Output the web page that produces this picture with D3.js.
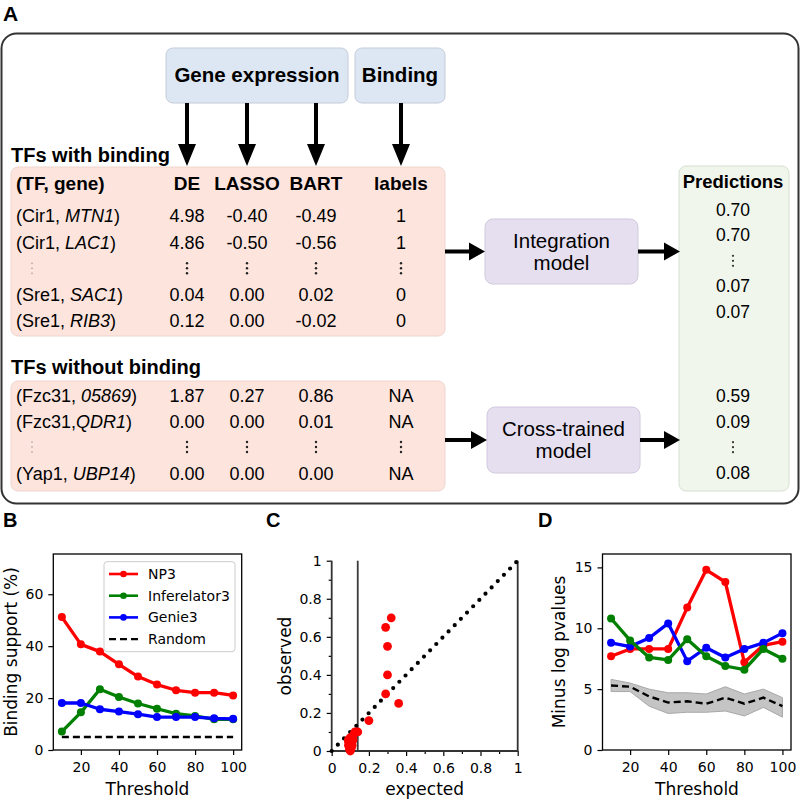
<!DOCTYPE html>
<meta charset="utf-8">
<script src="https://d3js.org/d3.v7.min.js"></script>
<style>
  body { margin: 0; background: #fff; }
  svg text { font-family: "Liberation Sans", Arial, sans-serif; }
  .mpl text { font-family: "DejaVu Sans", sans-serif; }
</style>
<div id="fig"></div>
<script>

// ---------------- Panel A : table values ----------------
var columns = ["DE", "LASSO", "BART", "labels"];

var boundTF = ["Cir1", "Cir1", "Sre1", "Sre1"];
var boundSep = [", ", ", ", ", ", ", "];
var boundGene = ["MTN1", "LAC1", "SAC1", "RIB3"];
var boundDE = [4.98, 4.86, 0.04, 0.12];
var boundLASSO = [-0.40, -0.50, 0.00, 0.00];
var boundBART = [-0.49, -0.56, 0.02, -0.02];
var boundLabels = ["1", "1", "0", "0"];
var boundPred = [0.70, 0.70, 0.07, 0.07];

var freeTF = ["Fzc31", "Fzc31", "Yap1"];
var freeSep = [", ", ",", ", "];
var freeGene = ["05869", "QDR1", "UBP14"];
var freeDE = [1.87, 0.00, 0.00];
var freeLASSO = [0.27, 0.00, 0.00];
var freeBART = [0.86, 0.01, 0.00];
var freeLabels = ["NA", "NA", "NA"];
var freePred = [0.59, 0.09, 0.08];

// ---------------- Panel B : binding support ----------------
var thresholds = [10, 20, 30, 40, 50, 60, 70, 80, 90, 100];
var np3Support = [51.2, 40.7, 37.9, 33.0, 28.3, 25.2, 23.0, 22.1, 22.1, 21.0];
var infSupport = [7.1, 14.5, 23.4, 20.4, 17.9, 15.9, 14.0, 13.1, 11.8, 11.8];
var genieSupport = [18.1, 18.1, 15.7, 14.8, 13.8, 12.7, 12.7, 12.7, 12.2, 12.0];
var randomSupport = [5, 5, 5, 5, 5, 5, 5, 5, 5, 5];
var legendNames = ["NP3", "Inferelator3", "Genie3", "Random"];

// ---------------- Panel C : observed vs expected ----------------
var qqExpected = [0.32, 0.29, 0.30, 0.30, 0.29, 0.36, 0.20, 0.14, 0.125, 0.12,
                  0.10, 0.11, 0.09, 0.10, 0.11, 0.09, 0.10, 0.095, 0.10, 0.11, 0.115, 0.09, 0.105];
var qqObserved = [0.70, 0.65, 0.55, 0.40, 0.30, 0.25, 0.16, 0.10, 0.10, 0.09,
                  0.07, 0.06, 0.05, 0.04, 0.05, 0.03, 0.02, 0.01, 0.00, 0.03, 0.06, 0.06, 0.015];
var qqCutoff = 0.14;

// ---------------- Panel D : minus log p-values ----------------
var np3Pval = [7.7, 8.3, 8.3, 8.3, 11.7, 14.8, 13.8, 7.2, 8.6, 8.9];
var geniePval = [8.8, 8.5, 9.2, 10.4, 7.3, 8.4, 7.6, 8.3, 8.8, 9.6];
var infPval = [10.8, 9.0, 7.6, 7.4, 9.1, 7.7, 6.9, 6.6, 8.3, 7.5];
var randomPval = [5.3, 5.2, 4.4, 3.9, 4.0, 3.8, 4.3, 3.8, 4.3, 3.6];
var randomHigh = [5.8, 5.5, 5.0, 4.7, 4.7, 4.6, 5.2, 4.6, 5.0, 4.3];
var randomLow = [4.8, 4.8, 3.6, 3.0, 3.1, 3.1, 3.2, 2.8, 3.5, 2.7];

var colors = {np3: "#ff0000", inf: "#008000", genie: "#0000ff"};

var svg = d3.select("#fig").append("svg")
  .attr("width", 800)
  .attr("height", 801);

// ======================= PANEL A =======================
var A = svg.append("g");

A.append("text").attr("x", 3).attr("y", 21)
  .style("font-size", "21px").style("font-weight", "bold").text("A");

A.append("rect")
  .attr("x", 1.5).attr("y", 33.5).attr("width", 797).attr("height", 470)
  .attr("rx", 15)
  .attr("fill", "none").attr("stroke", "#333").attr("stroke-width", 2);

// input boxes
var inputs = [
  {name: "Gene expression", x0: 166, x1: 348},
  {name: "Binding", x0: 355, x1: 445}
];
A.selectAll(".inbox").data(inputs).enter().append("rect")
  .attr("x", function(d){ return d.x0 }).attr("y", 48)
  .attr("width", function(d){ return d.x1 - d.x0 }).attr("height", 55)
  .attr("rx", 7)
  .attr("fill", "#dde7f3").attr("stroke", "#c3ccd8");
A.selectAll(".intext").data(inputs).enter().append("text")
  .attr("x", function(d){ return (d.x0 + d.x1) / 2 }).attr("y", 82)
  .attr("text-anchor", "middle")
  .style("font-size", "20.5px").style("font-weight", "bold")
  .text(function(d){ return d.name });

// column positions
var colX = d3.scaleOrdinal().domain(columns).range([187, 247, 316, 401]);

function downArrow(x, y1, y2) {
  var hw = 2, hh = 9, hl = 22;
  return ["M", x - hw, y1, "L", x + hw, y1, "L", x + hw, y2 - hl, "L", x + hh, y2 - hl,
          "L", x, y2, "L", x - hh, y2 - hl, "L", x - hw, y2 - hl, "Z"].join(" ");
}
function rightArrow(x1, x2, y) {
  var hw = 2, hh = 9, hl = 16;
  return ["M", x1, y - hw, "L", x2 - hl, y - hw, "L", x2 - hl, y - hh, "L", x2, y,
          "L", x2 - hl, y + hh, "L", x2 - hl, y + hw, "L", x1, y + hw, "Z"].join(" ");
}

A.selectAll(".varrow").data(columns).enter().append("path")
  .attr("d", function(d){ return downArrow(colX(d), 103, 166) })
  .attr("fill", "#000");

A.append("text").attr("x", 11).attr("y", 162)
  .style("font-size", "20px").style("font-weight", "bold").text("TFs with binding");
A.append("text").attr("x", 11).attr("y", 374)
  .style("font-size", "20px").style("font-weight", "bold").text("TFs without binding");

// pink boxes
A.append("rect").attr("x", 11).attr("y", 167).attr("width", 434).attr("height", 169)
  .attr("rx", 7).attr("fill", "#fde4dd").attr("stroke", "#eed5ce");
A.append("rect").attr("x", 11).attr("y", 381).attr("width", 434).attr("height", 110)
  .attr("rx", 7).attr("fill", "#fde4dd").attr("stroke", "#eed5ce");

// predictions box
A.append("rect").attr("x", 679).attr("y", 166).attr("width", 110).attr("height", 325)
  .attr("rx", 7).attr("fill", "#f0f6ec").attr("stroke", "#d6dfd2");
A.append("text").attr("x", 733).attr("y", 188).attr("text-anchor", "middle")
  .style("font-size", "18.5px").style("font-weight", "bold").text("Predictions");

// header row
A.append("text").attr("x", 16).attr("y", 190)
  .style("font-size", "19px").style("font-weight", "bold").text("(TF, gene)");
A.selectAll(".colhead").data(columns).enter().append("text")
  .attr("x", function(d){ return colX(d) }).attr("y", 190)
  .attr("text-anchor", "middle")
  .style("font-size", "19px").style("font-weight", "bold")
  .text(function(d){ return d });

// model boxes
var models = [
  {l1: "Integration", l2: "model", x0: 485, x1: 638, y0: 219, y1: 284},
  {l1: "Cross-trained", l2: "model", x0: 487, x1: 640, y0: 407, y1: 473}
];
A.selectAll(".model").data(models).enter().append("rect")
  .attr("x", function(d){ return d.x0 }).attr("y", function(d){ return d.y0 })
  .attr("width", function(d){ return d.x1 - d.x0 }).attr("height", function(d){ return d.y1 - d.y0 })
  .attr("rx", 8).attr("fill", "#e6dff0").attr("stroke", "#d2cadc");
models.forEach(function(m) {
  var cx = (m.x0 + m.x1) / 2, cy = (m.y0 + m.y1) / 2;
  A.append("text").attr("x", cx).attr("y", cy - 4).attr("text-anchor", "middle")
    .style("font-size", "20.5px").text(m.l1);
  A.append("text").attr("x", cx).attr("y", cy + 18).attr("text-anchor", "middle")
    .style("font-size", "20.5px").text(m.l2);
  A.append("path").attr("d", rightArrow(445, m.x0, cy)).attr("fill", "#000");
  A.append("path").attr("d", rightArrow(m.x1, 680, cy)).attr("fill", "#000");
});

function vdots(g, x, y, r, col) {
  [-5, 0, 5].forEach(function(o) {
    g.append("circle").attr("cx", x).attr("cy", y + o).attr("r", r).attr("fill", col);
  });
}

function drawBlock(rowY, slots, tf, sep, gene, de, lasso, bart, labels, dotSlot) {
  var cols = [de, lasso, bart];
  slots.forEach(function(s, i) {
    var y = rowY(s) + 6.5;
    var t = A.append("text").attr("x", 16).attr("y", y).style("font-size", "18px");
    t.append("tspan").text("(" + tf[i] + sep[i]);
    t.append("tspan").style("font-style", "italic").text(gene[i]);
    t.append("tspan").text(")");
    cols.forEach(function(vals, c) {
      A.append("text").attr("x", colX(columns[c])).attr("y", y).attr("text-anchor", "middle")
        .style("font-size", "18px").text(vals[i].toFixed(2));
    });
    A.append("text").attr("x", colX("labels")).attr("y", y).attr("text-anchor", "middle")
      .style("font-size", "18px").text(labels[i]);
  });
  vdots(A, 32, rowY(dotSlot), 0.8, "#999");
  columns.forEach(function(c) { vdots(A, colX(c), rowY(dotSlot), 1.2, "#222"); });
}

var boundY = d3.scaleLinear().domain([0, 4]).range([215.7, 320.9]);
drawBlock(boundY, [0, 1, 3, 4], boundTF, boundSep, boundGene, boundDE, boundLASSO, boundBART, boundLabels, 2);
var freeY = d3.scaleLinear().domain([0, 3]).range([395, 473]);
drawBlock(freeY, [0, 1, 3], freeTF, freeSep, freeGene, freeDE, freeLASSO, freeBART, freeLabels, 2);

// predictions column
var predBY = d3.scaleLinear().domain([0, 4]).range([210, 311.6]);
[0, 1, 3, 4].forEach(function(s, i) {
  A.append("text").attr("x", 733).attr("y", predBY(s) + 6).attr("text-anchor", "middle")
    .style("font-size", "17.5px").text(boundPred[i].toFixed(2));
});
vdots(A, 733, predBY(2), 1.1, "#333");
var predFY = d3.scaleLinear().domain([0, 3]).range([396, 472.7]);
[0, 1, 3].forEach(function(s, i) {
  A.append("text").attr("x", 733).attr("y", predFY(s) + 6).attr("text-anchor", "middle")
    .style("font-size", "17.5px").text(freePred[i].toFixed(2));
});
vdots(A, 733, predFY(2), 1.1, "#333");

// ======================= shared axis helpers =======================
function styleAxis(g) {
  g.select(".domain").remove();
  g.selectAll(".tick line").attr("stroke", "#000").attr("stroke-width", 1.2);
  g.selectAll(".tick text").style("font-size", "14px").attr("fill", "#000");
}
function intFmt(d) { return d3.format("d")(d); }

// ======================= PANEL B =======================
var B = svg.append("g").attr("class", "mpl");
svg.append("text").attr("x", 3).attr("y", 527)
  .style("font-size", "20px").style("font-weight", "bold").text("B");

var xB = d3.scaleLinear().domain([5.5, 104.5]).range([53.3, 241.7]);
var yB = d3.scaleLinear().domain([0, 75.5]).range([750, 554]);

B.append("g").attr("transform", "translate(0,750)")
  .call(d3.axisBottom(xB).tickValues([20, 40, 60, 80, 100]).tickSize(5).tickPadding(7).tickFormat(intFmt))
  .call(styleAxis);
B.append("g").attr("transform", "translate(53.3,0)")
  .call(d3.axisLeft(yB).tickValues([0, 20, 40, 60]).tickSize(5).tickPadding(5).tickFormat(intFmt))
  .call(styleAxis);

var seriesB = [
  {vals: np3Support, color: colors.np3},
  {vals: infSupport, color: colors.inf},
  {vals: genieSupport, color: colors.genie}
];
var lineB = d3.line().x(function(d, i){ return xB(thresholds[i]) }).y(function(d){ return yB(d) });
B.append("path").attr("d", lineB(randomSupport)).attr("fill", "none")
  .attr("stroke", "#000").attr("stroke-width", 2.4).attr("stroke-dasharray", "7,4");
seriesB.forEach(function(s) {
  B.append("path").attr("d", lineB(s.vals)).attr("fill", "none")
    .attr("stroke", s.color).attr("stroke-width", 3.3).attr("stroke-linejoin", "round");
  B.selectAll(null).data(s.vals).enter().append("circle")
    .attr("cx", function(d, i){ return xB(thresholds[i]) })
    .attr("cy", function(d){ return yB(d) })
    .attr("r", 4).attr("fill", s.color);
});

B.append("rect").attr("x", 53.3).attr("y", 554).attr("width", 188.4).attr("height", 196)
  .attr("fill", "none").attr("stroke", "#000").attr("stroke-width", 1.3);

// legend
var leg = B.append("g");
leg.append("rect").attr("x", 104).attr("y", 561.7).attr("width", 131).attr("height", 90)
  .attr("rx", 3).attr("fill", "#fff").attr("fill-opacity", 0.85).attr("stroke", "#cccccc");
var legColors = [colors.np3, colors.inf, colors.genie, "#000"];
legendNames.forEach(function(name, i) {
  var y = 574 + i * 21.7;
  var ln = leg.append("line").attr("x1", 109).attr("x2", 138).attr("y1", y).attr("y2", y)
    .attr("stroke", legColors[i]);
  if (i < 3) {
    ln.attr("stroke-width", 2.6);
    leg.append("circle").attr("cx", 123.5).attr("cy", y).attr("r", 3.3).attr("fill", legColors[i]);
  } else {
    ln.attr("stroke-width", 2.3).attr("stroke-dasharray", "7,4");
  }
  leg.append("text").attr("x", 148).attr("y", y).attr("dy", "0.36em")
    .style("font-size", "14px").text(name);
});

B.append("text").attr("transform", "translate(17,652) rotate(-90)")
  .attr("text-anchor", "middle").style("font-size", "17px").text("Binding support (%)");
B.append("text").attr("x", 147.5).attr("y", 795)
  .attr("text-anchor", "middle").style("font-size", "17px").text("Threshold");

// ======================= PANEL C =======================
var C = svg.append("g").attr("class", "mpl");
svg.append("text").attr("x", 266).attr("y", 527)
  .style("font-size", "20px").style("font-weight", "bold").text("C");

var xC = d3.scaleLinear().domain([0, 1]).range([331.7, 517.7]);
var yC = d3.scaleLinear().domain([0, 1]).range([751, 560.7]);
var majorC = [0, 0.2, 0.4, 0.6, 0.8, 1];
var minorC = [0.1, 0.3, 0.5, 0.7, 0.9];
function fmtC(d) { return (d === 0 || d === 1) ? String(d) : d.toFixed(1); }

C.append("g").attr("transform", "translate(0,751)")
  .call(d3.axisBottom(xC).tickValues(majorC).tickSize(5).tickPadding(7).tickFormat(fmtC))
  .call(styleAxis);
C.append("g").attr("transform", "translate(0,751)")
  .call(d3.axisBottom(xC).tickValues(minorC).tickSize(3).tickFormat(""))
  .call(styleAxis);
C.append("g").attr("transform", "translate(331.7,0)")
  .call(d3.axisLeft(yC).tickValues(majorC).tickSize(5).tickPadding(5).tickFormat(fmtC))
  .call(styleAxis);
C.append("g").attr("transform", "translate(331.7,0)")
  .call(d3.axisLeft(yC).tickValues(minorC).tickSize(3).tickFormat(""))
  .call(styleAxis);

// spines: left, bottom and right (no top)
C.append("path")
  .attr("d", "M" + xC(0) + "," + yC(1) + "V" + yC(0) + "H" + xC(1) + "V" + yC(1))
  .attr("fill", "none").attr("stroke", "#333").attr("stroke-width", 1.8);

// vertical guide line at the cutoff
C.append("line")
  .attr("x1", xC(qqCutoff)).attr("x2", xC(qqCutoff))
  .attr("y1", yC(1)).attr("y2", yC(0))
  .attr("stroke", "#3a3a3a").attr("stroke-width", 1.8);

// diagonal
C.append("line").attr("x1", xC(0)).attr("y1", yC(0)).attr("x2", xC(1)).attr("y2", yC(1))
  .attr("stroke", "#000").attr("stroke-width", 4.2).attr("stroke-linecap", "round")
  .attr("stroke-dasharray", "0,8.8");

C.selectAll(null).data(qqExpected).enter().append("circle")
  .attr("cx", function(d){ return xC(d) })
  .attr("cy", function(d, i){ return yC(qqObserved[i]) })
  .attr("r", 4.4).attr("fill", "#ff0000");

C.append("text").attr("transform", "translate(291,656) rotate(-90)")
  .attr("text-anchor", "middle").style("font-size", "17px").text("observed");
C.append("text").attr("x", 424.7).attr("y", 795)
  .attr("text-anchor", "middle").style("font-size", "17px").text("expected");

// ======================= PANEL D =======================
var D = svg.append("g").attr("class", "mpl");
svg.append("text").attr("x", 538).attr("y", 527)
  .style("font-size", "20px").style("font-weight", "bold").text("D");

var xD = d3.scaleLinear().domain([5.5, 104.5]).range([602.5, 791]);
var yD = d3.scaleLinear().domain([0, 16.1]).range([750, 554]);

D.append("g").attr("transform", "translate(0,750)")
  .call(d3.axisBottom(xD).tickValues([20, 40, 60, 80, 100]).tickSize(5).tickPadding(7).tickFormat(intFmt))
  .call(styleAxis);
D.append("g").attr("transform", "translate(602.5,0)")
  .call(d3.axisLeft(yD).tickValues([0, 5, 10, 15]).tickSize(5).tickPadding(5).tickFormat(intFmt))
  .call(styleAxis);

var areaD = d3.area()
  .x(function(d, i){ return xD(thresholds[i]) })
  .y0(function(d, i){ return yD(randomLow[i]) })
  .y1(function(d){ return yD(d) });
D.append("path").attr("d", areaD(randomHigh))
  .attr("fill", "#c4c4c4").attr("stroke", "#a8a8a8").attr("stroke-width", 1);

var lineD = d3.line().x(function(d, i){ return xD(thresholds[i]) }).y(function(d){ return yD(d) });
D.append("path").attr("d", lineD(randomPval)).attr("fill", "none")
  .attr("stroke", "#000").attr("stroke-width", 2.4).attr("stroke-dasharray", "7,4");

var seriesD = [
  {vals: np3Pval, color: colors.np3},
  {vals: geniePval, color: colors.genie},
  {vals: infPval, color: colors.inf}
];
seriesD.forEach(function(s) {
  D.append("path").attr("d", lineD(s.vals)).attr("fill", "none")
    .attr("stroke", s.color).attr("stroke-width", 3.3).attr("stroke-linejoin", "round");
  D.selectAll(null).data(s.vals).enter().append("circle")
    .attr("cx", function(d, i){ return xD(thresholds[i]) })
    .attr("cy", function(d){ return yD(d) })
    .attr("r", 4).attr("fill", s.color);
});

D.append("rect").attr("x", 602.5).attr("y", 554).attr("width", 188.5).attr("height", 196)
  .attr("fill", "none").attr("stroke", "#000").attr("stroke-width", 1.3);

D.append("text").attr("transform", "translate(565,652) rotate(-90)")
  .attr("text-anchor", "middle").style("font-size", "17px").text("Minus log pvalues");
D.append("text").attr("x", 697).attr("y", 795)
  .attr("text-anchor", "middle").style("font-size", "17px").text("Threshold");

</script>
